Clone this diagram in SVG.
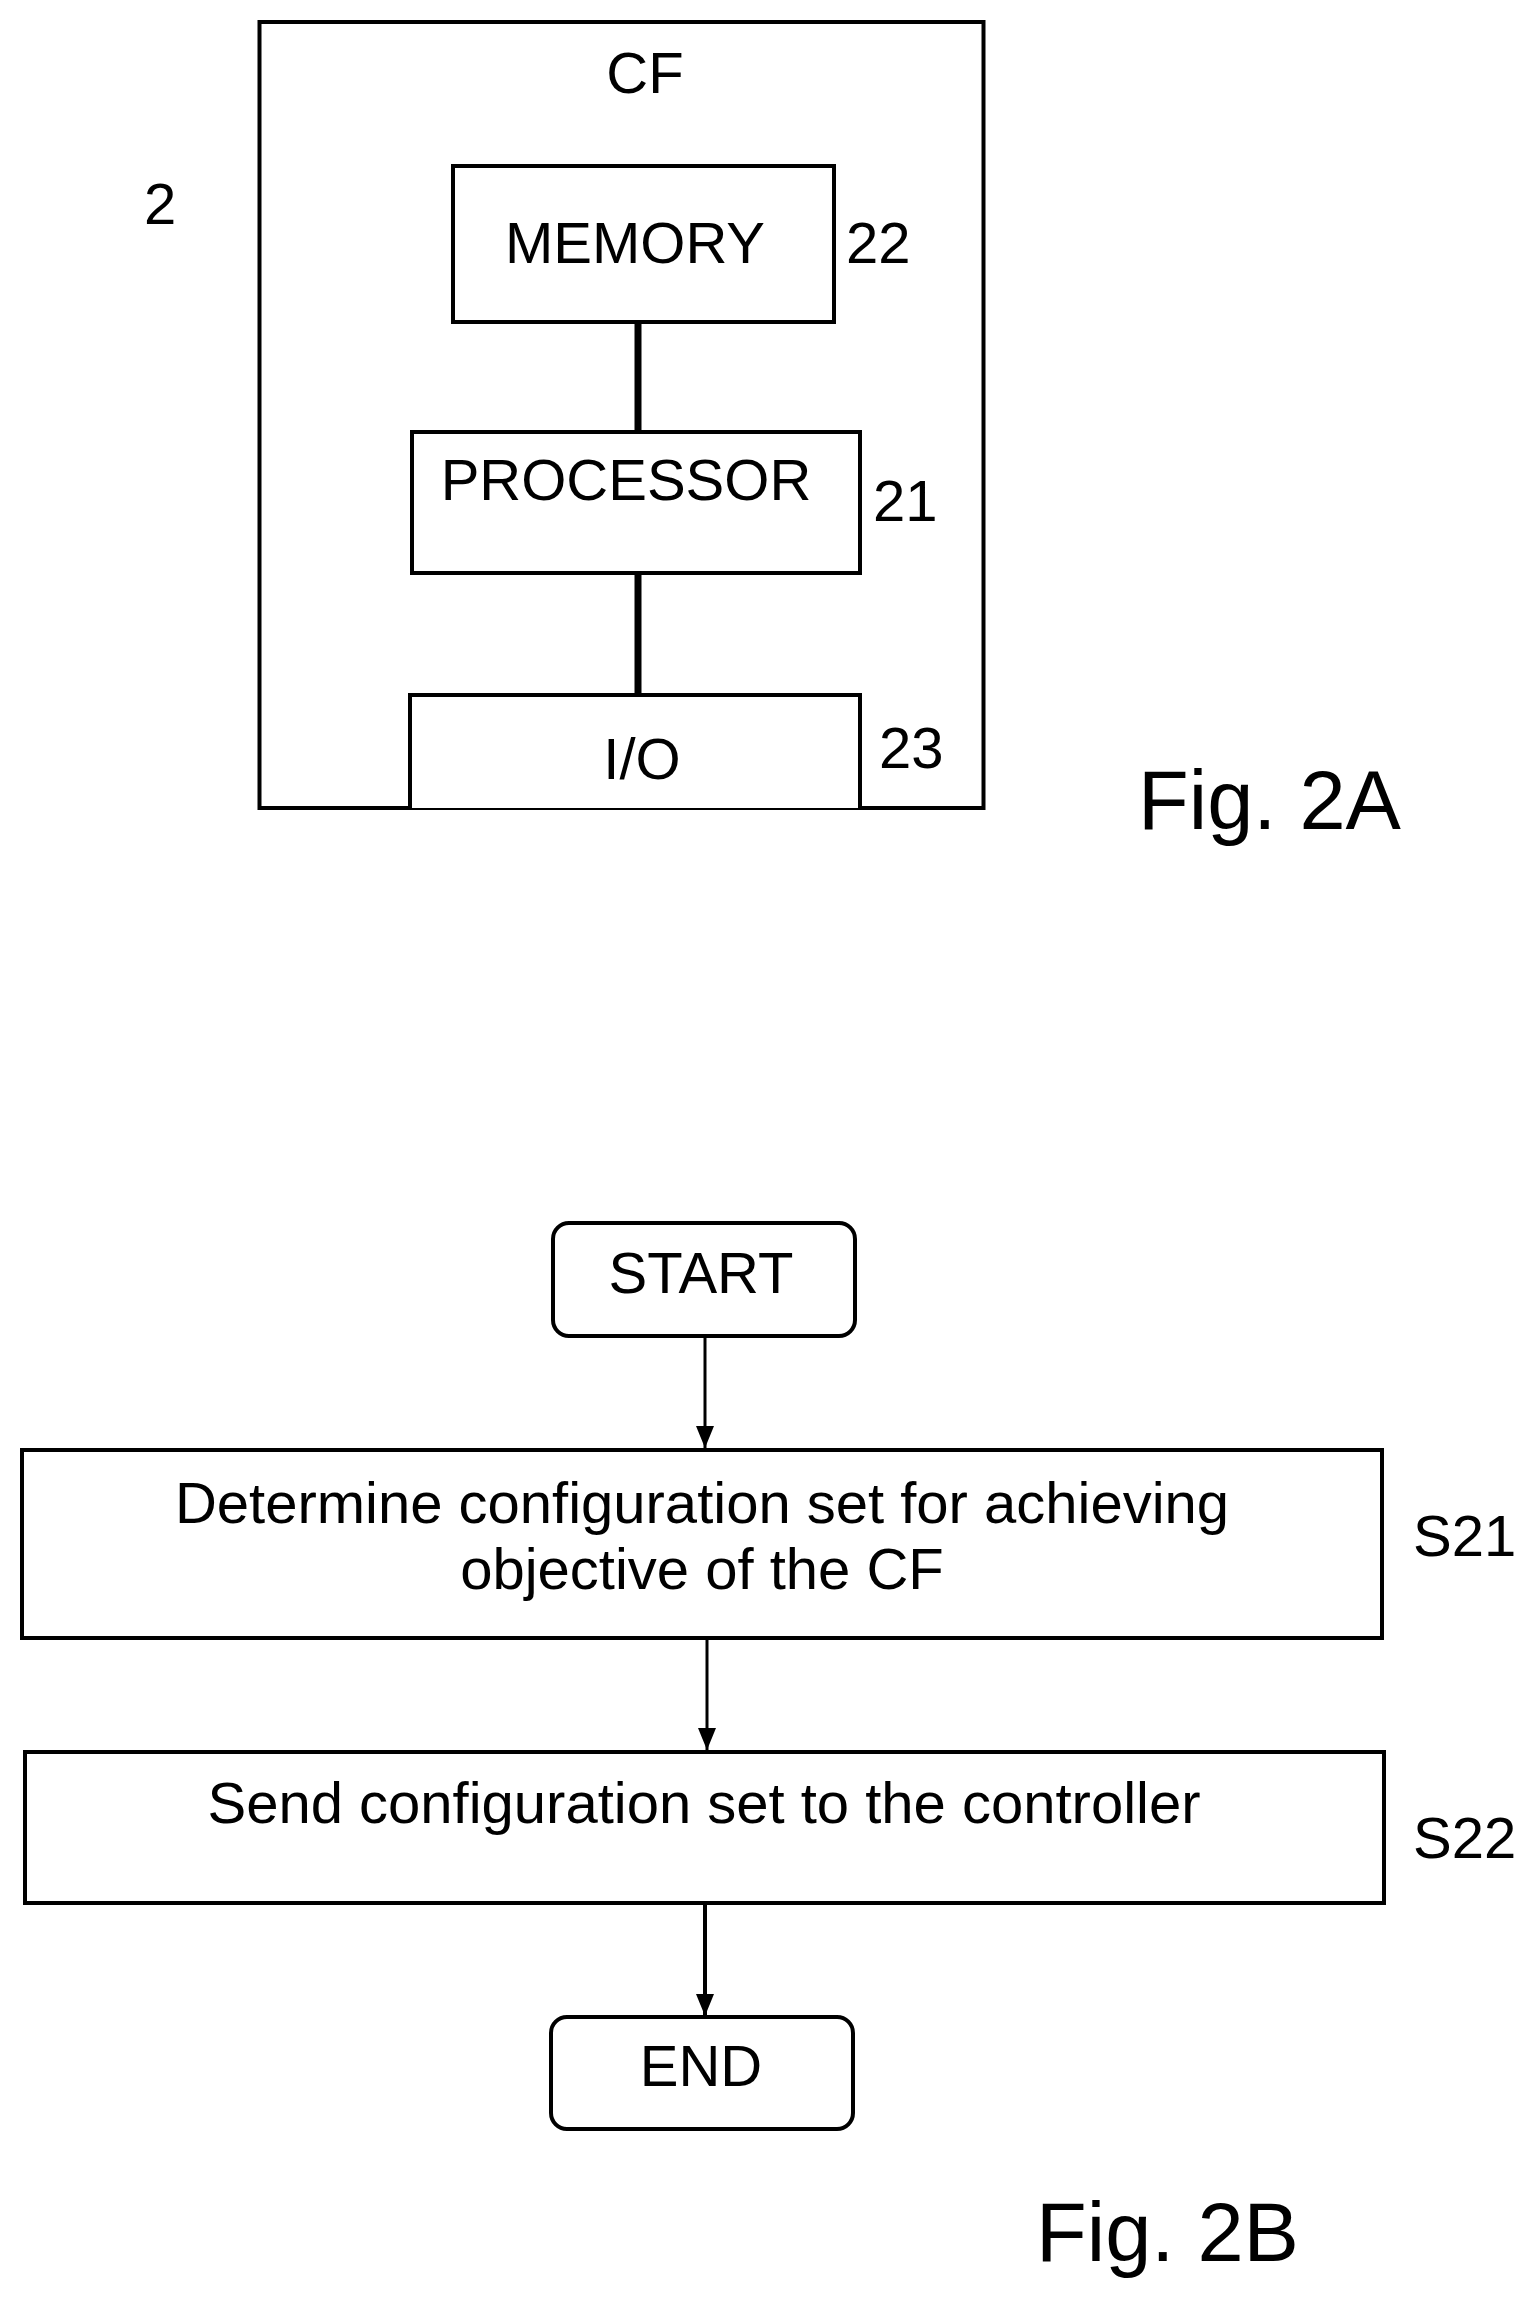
<svg xmlns="http://www.w3.org/2000/svg" width="1532" height="2297" viewBox="0 0 1532 2297">
<style>
rect{fill:#fff;stroke:#000;stroke-width:4}
text{font-family:"Liberation Sans",Arial,sans-serif;font-size:58px;fill:#000}
.c{text-anchor:middle}
.fig{font-size:83px}
line{stroke:#000}
</style>
<defs>
<marker id="ah" markerWidth="22" markerHeight="22" refX="22" refY="11" orient="auto" markerUnits="userSpaceOnUse" viewBox="0 0 22 22"><path d="M0,2 L22,11 L0,20 z" fill="#000"/></marker></defs>
<g id="cf"><rect x="259.5" y="22" width="724" height="786"/><text class="c" x="645" y="93">CF</text></g>
<text x="144" y="224">2</text>
<g id="conn">
<line x1="638" y1="322" x2="638" y2="432" stroke-width="7"/>
<line x1="638" y1="573" x2="638" y2="695" stroke-width="7"/>
<line x1="705" y1="1336" x2="705" y2="1448" stroke-width="3" marker-end="url(#ah)"/>
<line x1="707" y1="1638" x2="707" y2="1750" stroke-width="3" marker-end="url(#ah)"/>
<line x1="705" y1="1903" x2="705" y2="2016" stroke-width="4" marker-end="url(#ah)"/>
</g>
<g id="memory"><rect x="453" y="166" width="381" height="156"/><text class="c" x="635" y="263">MEMORY</text></g>
<text x="846" y="263">22</text>
<g id="processor"><rect x="412" y="432" width="448" height="141"/><text class="c" x="626" y="500">PROCESSOR</text></g>
<text x="873" y="521">21</text>
<g id="io"><path d="M410,808 V695 H860 V808" fill="#fff" stroke="#000" stroke-width="4"/><text class="c" x="642" y="779">I/O</text></g>
<text x="879" y="768">23</text>
<text class="fig" x="1138" y="829">Fig. 2A</text>
<g id="start"><rect x="553" y="1223" width="302" height="113" rx="16"/><text class="c" x="701" y="1293">START</text></g>
<g id="s21"><rect x="22" y="1450" width="1360" height="188"/><text class="c" x="702" y="1523">Determine configuration set for achieving</text><text class="c" x="702" y="1589">objective of the CF</text></g>
<text x="1413" y="1556">S21</text>
<g id="s22"><rect x="25" y="1752" width="1359" height="151"/><text class="c" x="704" y="1823">Send configuration set to the controller</text></g>
<text x="1413" y="1858">S22</text>
<g id="end"><rect x="551" y="2017" width="302" height="112" rx="16"/><text class="c" x="701" y="2086">END</text></g>
<text class="fig" x="1036" y="2261">Fig. 2B</text>
</svg>
